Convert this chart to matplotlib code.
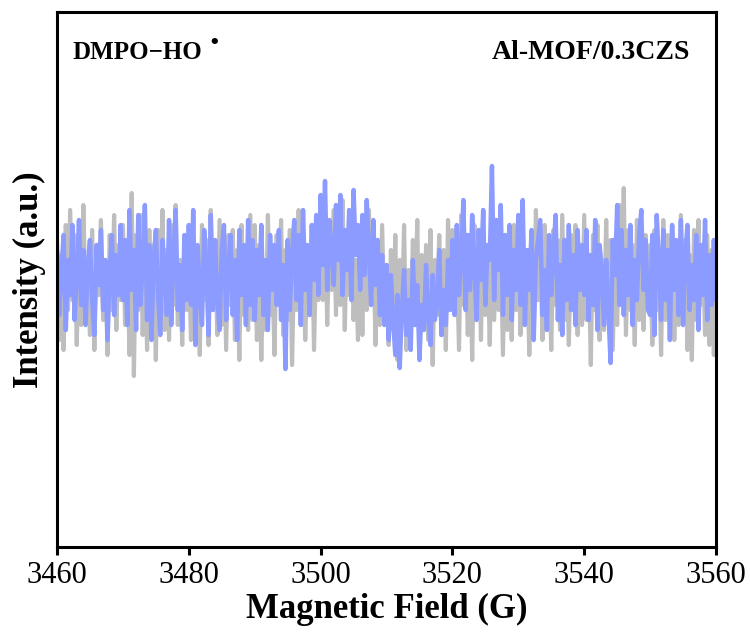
import matplotlib
matplotlib.use("Agg")
import matplotlib.pyplot as plt
import numpy as np

# EPR spectrum, DMPO-HO adduct, Al-MOF/0.3CZS (intensity in arbitrary units)
field_start, field_end = 3460, 3560

gray_intensity = [
    40, -60, 25, -70, 55, -30, 70, -20, 45, -65, 30, -45, 75, -25, 15, -55, 50, -70, 30, -15, 60, -40, 20, -75, 45, -30, 65, -50, 35, -20,
    55, -45, 30, -75, 87, -96, 45, -30, 65, -55, 20, -70, 50, -15, 35, -80, 50, -35, 70, -50, 30, -60, 55, -25, 75, -45, 20, -65, 40, -30,
    25, -60, 65, -40, 15, -75, 55, -20, 40, -65, 70, -30, 20, -55, 60, -45, 35, -70, 45, -25, 50, -60, 30, -80, 55, -35, 20, -50, 65, -40,
    55, -60, 35, -80, 20, -50, 65, -35, 10, -75, 45, -20, 60, -55, 30, -40, 50, -85, 25, -30, 70, -45, 40, -60, 15, -35, 55, -70, 30, -20,
    60, -20, 75, -45, 40, -10, 70, -35, 55, -25, 80, -50, 45, -15, 65, -40, 20, -60, 35, -55, 50, -30, 70, -20, 40, -65, 25, -45, 55, -35,
    15, -65, 30, -50, 45, -80, 20, -40, 55, -70, 10, -55, 40, -30, 60, -75, 25, -45, 35, -60, 50, -85, 20, -35, 45, -55, 30, -70, 60, -25,
    50, -35, 20, -70, 65, -25, 40, -55, 30, -80, 55, -20, 45, -60, 70, -35, 25, -65, 50, -40, 60, -30, 35, -75, 45, -50, 20, -60, 55, -30,
    35, -55, 60, -30, 20, -75, 45, -45, 70, -20, 30, -60, 55, -35, 15, -70, 50, -25, 40, -50, 65, -40, 25, -65, 45, -30, 55, -55, 30, -45,
    65, -40, 25, -85, 45, -30, 55, -60, 20, -50, 60, -35, 40, -70, 30, -45, 75, -20, 92, -55, 50, -30, 35, -65, 60, -40, 20, -50, 45, -25,
    35, -65, 50, -30, 20, -75, 60, -40, 45, -25, 55, -60, 30, -45, 65, -35, 40, -70, 25, -80, 50, -40, 60, -25, 35, -55, 45, -65, 30, -75, 10,
]

blue_intensity = [
    30, -35, 10, 45, -50, 20, -15, 55, -40, 5, 60, -25, 30, -45, 15, 40, -20, -55, 35, -5, 50, -30, 20, -60, 10, 45, -35, 25, -15, 55,
    -20, 40, -45, 70, -10, 30, -50, 65, -25, 15, 75, -40, 35, -60, 20, 50, -15, -55, 40, 10, -35, 60, -45, 25, 70, -30, 15, -50, 45, -20,
    55, -25, 70, -65, 35, -10, -45, 50, 15, -55, 65, -30, 40, -20, -50, 30, 55, -40, 10, 45, -35, 20, -60, 50, -15, 35, -45, 60, -25, 40,
    -40, 30, -15, 55, -35, 20, -50, 45, -10, 35, -25, 50, -40, 15, -89, 40, -30, 25, 60, -20, 45, -45, 70, -10, 35, -35, 55, 0, 65, -15,
    85, 15, 99, -10, 60, 30, -5, 75, 20, 85, -15, 50, 10, 70, -20, 90, 25, 55, -10, 65, 5, 80, 30, -25, 60, -5, 40, -35, 25, -45,
    15, -60, 5, -40, -75, -15, -88, -30, 10, -55, -20, -70, 20, -45, -5, -80, -25, -50, 15, -35, -65, 5, -40, -20, 30, -55, -10, -45, 20, -30,
    40, -35, 55, -15, 25, 80, -30, 45, -10, 65, 15, -40, 50, 0, 70, -25, 35, 20, 114, -20, 60, 10, 75, -35, 45, -15, 55, -40, 30, -10,
    65, -25, 80, -45, 30, -10, 50, -60, 20, 40, 60, -35, 10, -50, 45, -15, 30, 65, -40, 15, -55, 40, -20, 55, -30, 25, -45, 50, -10, 35,
    -15, 50, -40, 25, -25, 60, -50, 35, 10, -45, 20, -30, -83, 40, 5, 75, -25, 50, -35, 30, -15, 55, -45, 20, -20, 45, 70, -10, 40, -30,
    -35, 45, -55, 65, 20, -40, 50, -20, 30, -60, 55, -10, 40, -35, 60, -45, 25, 55, -30, 15, -20, 45, -50, 35, -15, 60, -40, 25, -25, 40, -20,
]

gray_field = np.linspace(field_start, field_end, len(gray_intensity))
blue_field = np.linspace(field_start, field_end, len(blue_intensity))
x_ticks = [3460, 3480, 3500, 3520, 3540, 3560]

plt.rcParams["font.family"] = ["Liberation Serif", "DejaVu Serif"]

fig = plt.figure(figsize=(7.5, 6.43), dpi=100)
ax = fig.add_axes([0.076, 0.1493, 0.8787, 0.832])

ax.plot(gray_field, gray_intensity, color="#BEBEBE", linewidth=3.0,
        solid_joinstyle="round", solid_capstyle="round")
ax.plot(blue_field, blue_intensity, color="#8C9BFF", linewidth=3.2,
        solid_joinstyle="round", solid_capstyle="round")

ax.set_xlim(field_start, field_end)
ax.set_ylim(-267, 268)
ax.set_xticks(x_ticks)
ax.set_xticklabels([str(t) for t in x_ticks])
ax.set_yticks([])

for spine in ax.spines.values():
    spine.set_linewidth(2.2)
ax.tick_params(axis="x", direction="out", length=6, width=2.2, labelsize=22, pad=4)

ax.set_xlabel("Magnetic Field (G)", fontsize=25, fontweight="bold", labelpad=2)
ax.set_ylabel("Intensity (a.u.)", fontsize=25, fontweight="bold", labelpad=8)

ax.text(0.023, 0.925, "DMPO\u2212HO", transform=ax.transAxes,
        fontsize=18, fontweight="bold", va="center", ha="left")
ax.text(0.238, 0.942, "\u2022", transform=ax.transAxes, family="DejaVu Sans",
        fontsize=13, fontweight="bold", va="center", ha="center")
ax.text(0.96, 0.925, "Al-MOF/0.3CZS", transform=ax.transAxes,
        fontsize=20, fontweight="bold", va="center", ha="right")

fig.savefig("out.png", dpi=100)
